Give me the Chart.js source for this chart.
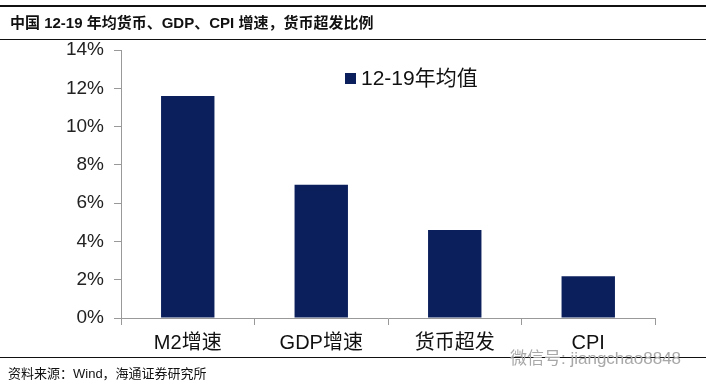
<!DOCTYPE html>
<html><head><meta charset="utf-8">
<script src="https://cdn.jsdelivr.net/npm/chart.js@4/dist/chart.umd.min.js"></script>
<style>
html,body{margin:0;padding:0;background:#fff;}
#wrap{position:relative;width:706px;height:390px;overflow:hidden;}
canvas{position:absolute;left:0;top:0;}
.t{position:absolute;white-space:nowrap;}
</style></head><body>
<div id="wrap">
<canvas id="c" width="706" height="390"></canvas>
<div style="position:absolute;left:0;top:5px;width:706px;height:2px;background:#111"></div>
<div class="t" style="left:10px;top:11px;font:bold 15px 'Liberation Sans','Noto Sans CJK SC';color:#111">中国 12-19 年均货币、GDP、CPI 增速，货币超发比例</div>
<div style="position:absolute;left:0;top:39px;width:706px;height:1px;background:#111"></div>
<div style="position:absolute;left:0;top:357px;width:706px;height:1px;background:#111"></div>
<div class="t" style="left:8px;top:363px;font:13px 'Liberation Sans','Noto Sans CJK SC';color:#111">资料来源：Wind，海通证券研究所</div>
<div class="t" style="left:510px;top:344px;font:17px 'Liberation Sans','Noto Sans CJK SC';color:#a8a8a8">微信号: jiangchao8848</div>
</div>
<script>
const categories = ['M2增速', 'GDP增速', '货币超发', 'CPI'];
const seriesLabel = '12-19年均值';
const values = [11.6, 6.96, 4.6, 2.18];
const yTicks = [0, 2, 4, 6, 8, 10, 12, 14];

const legendPlugin = {
  id: 'customLegend',
  afterDraw(chart) {
    const ctx = chart.ctx;
    const ds = chart.data.datasets[0];
    ctx.save();
    ctx.fillStyle = ds.backgroundColor;
    ctx.fillRect(345, 73, 11, 11);
    ctx.fillStyle = '#111';
    ctx.font = '21px "Liberation Sans","Noto Sans CJK SC"';
    ctx.textBaseline = 'middle';
    ctx.fillText(ds.label, 361, 79);
    ctx.restore();
  }
};

new Chart(document.getElementById('c'), {
  type: 'bar',
  data: {
    labels: categories,
    datasets: [{
      label: seriesLabel,
      data: values,
      backgroundColor: '#0b1f5c',
      categoryPercentage: 1.0,
      barPercentage: 0.4
    }]
  },
  options: {
    responsive: false,
    animation: false,
    layout: { padding: { left: 0, top: 50, right: 51, bottom: 32 } },
    plugins: { legend: { display: false }, tooltip: { enabled: false } },
    scales: {
      x: {
        grid: { display: true, drawOnChartArea: false, offset: true, tickLength: 7, color: '#999' },
        border: { color: '#999', width: 1 },
        ticks: { color: '#111', font: { size: 20, family: '"Liberation Sans","Noto Sans CJK SC"' }, padding: 6 },
        afterFit(s) { s.height = 40; }
      },
      y: {
        min: 0, max: 14,
        afterBuildTicks(s) { s.ticks = yTicks.map(v => ({ value: v })); },
        grid: { display: true, drawOnChartArea: false, tickLength: 7, color: '#999' },
        border: { color: '#999', width: 1 },
        ticks: { color: '#222', font: { size: 19, family: '"Liberation Sans"' }, padding: 10, callback: v => v + '%' },
        afterFit(s) { s.width = 121; }
      }
    }
  },
  plugins: [legendPlugin]
});
</script>
</body></html>
